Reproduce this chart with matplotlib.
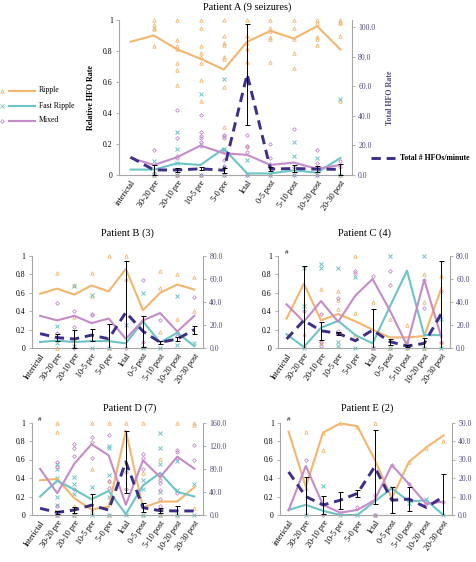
import matplotlib
matplotlib.use('Agg')
import matplotlib.pyplot as plt
from matplotlib.lines import Line2D
import numpy as np

plt.rcParams['font.family'] = 'serif'
plt.rcParams['font.serif'] = ['Liberation Serif', 'DejaVu Serif']

c_ripple = '#f2b66e'
c_fast = '#6cc4c6'
c_mixed = '#c58bc9'
c_total = '#3d2e86'
c_spine = '#a6a6a6'
c_right = '#4e4a7e'

periods = ['interictal', '30-20 pre', '20-10 pre', '10-5 pre', '5-0 pre',
           'Ictal', '0-5 post', '5-10 post', '10-20 post', '20-30 post']
periods_cap = ['Interictal'] + periods[1:]

# ---- Patient A (9 seizures)
a_ripple = [0.86, 0.90, 0.81, 0.75, 0.68, 0.86, 0.93, 0.88, 0.96, 0.81]
a_fast = [0.035, 0.035, 0.075, 0.065, 0.17, 0.01, 0.01, 0.03, 0.015, 0.11]
a_mixed = [0.11, 0.065, 0.115, 0.19, 0.14, 0.13, 0.065, 0.08, 0.04, 0.065]
a_total = [12.0, 3.4, 3.4, 4.2, 3.2, 68.0, 4.0, 4.4, 4.0, 3.8]
a_total_err = [0, 3.4, 1.6, 1.0, 1.8, 34.0, 1.5, 2.2, 1.8, 3.6]
a_ripple_pts = [[], [1.0, 0.97, 0.95, 0.94, 0.83, 0.0],
                [1.0, 0.87, 0.83, 0.81, 0.72, 0.68, 0.58, 0.0],
                [1.0, 0.95, 0.83, 0.79, 0.76, 0.72, 0.61, 0.48, 0.0],
                [1.0, 0.90, 0.85, 0.84, 0.76, 0.75, 0.57, 0.31],
                [1.0, 0.90, 0.85, 0.81, 0.73],
                [1.0, 0.95, 0.93, 0.89, 0.88, 0.73],
                [1.0, 0.95, 0.88, 0.79, 0.69],
                [1.0, 0.98, 0.89, 0.88, 0.84],
                [1.0, 0.99, 0.98, 0.90, 0.48, 0.0]]
a_fast_pts = [[], [0.09, 0.0], [0.28, 0.17, 0.08, 0.0], [0.52, 0.20, 0.0],
              [0.62, 0.17, 0.0], [0.10, 0.0], [0.0], [0.21, 0.12, 0.0],
              [0.11, 0.0], [0.49, 0.0]]
a_mixed_pts = [[], [0.16, 0.01], [0.42, 0.24, 0.12, 0.11, 0.0],
               [0.39, 0.28, 0.25, 0.24, 0.21, 0.19, 0.0],
               [0.26, 0.25, 0.24, 0.15, 0.10, 0.06, 0.0],
               [0.26, 0.19, 0.18, 0.15, 0.0], [0.20, 0.11, 0.07, 0.05, 0.0],
               [0.30, 0.05, 0.0], [0.16, 0.08, 0.0], [0.09, 0.05]]

# ---- Patient B (3)
b_ripple = [0.59, 0.645, 0.58, 0.68, 0.615, 0.86, 0.41, 0.60, 0.69, 0.635]
b_fast = [0.065, 0.08, 0.065, 0.075, 0.075, 0.05, 0.29, 0.06, 0.165, 0.02]
b_mixed = [0.35, 0.30, 0.35, 0.27, 0.32, 0.10, 0.30, 0.38, 0.18, 0.35]
b_total = [12.5, 9.0, 7.8, 11.2, 8.0, 31.0, 14.5, 4.9, 7.8, 16.0]
b_total_err = [0, 2.8, 8.0, 5.0, 13.0, 45.0, 13.5, 1.5, 1.5, 3.5]
b_ripple_pts = [[], [0.815, 0.0], [0.69, 0.34], [0.815, 0.57], [1.0, 0.0],
                [1.0, 0.75], [0.31], [0.84, 0.65, 0.17], [0.80, 0.31],
                [0.77, 0.40]]
b_fast_pts = [[], [0.24, 0.05], [0.67, 0.09, 0.02], [0.58, 0.0], [0.0],
              [0.25], [0.60, 0.0], [0.0], [0.57, 0.03], [0.05]]
b_mixed_pts = [[], [0.49, 0.165], [0.40, 0.23, 0.0], [0.375, 0.36], [],
               [0.0], [0.74, 0.06], [0.30], [0.17, 0.13], [0.55]]

# ---- Patient C (4)
c_ripple_v = [0.32, 0.70, 0.30, 0.37, 0.29, 0.20, 0.115, 0.115, 0.13, 0.65]
c_fast_v = [0.15, 0.01, 0.22, 0.295, 0.14, 0.05, 0.45, 0.84, 0.14, 0.14]
c_mixed_v = [0.475, 0.285, 0.51, 0.285, 0.57, 0.75, 0.41, 0.03, 0.74, 0.115]
c_total_v = [7.8, 24.0, 15.0, 12.7, 6.3, 15.6, 5.5, 1.7, 4.0, 30.0]
c_total_err = [0, 47.0, 8.0, 1.5, 0, 18.5, 2.5, 1.0, 5.0, 46.0]
c_ripple_pts = [[], [0.15], [0.645, 0.08, 0.05], [0.62, 0.52, 0.42],
                [1.0, 0.38, 0.14], [0.50, 0.0], [0.31, 0.0], [0.25, 0.08],
                [0.80, 0.50, 0.0], [0.78, 0.07]]
c_fast_pts = [[], [0.87, 0.46, 0.0], [0.91, 0.87], [0.87, 0.07, 0.02],
              [0.77, 0.0], [0.0], [1.0, 0.0], [0.0], [1.0, 0.0], [0.31, 0.0]]
c_mixed_pts = [[], [0.40], [0.37, 0.06, 0.02], [0.54, 0.18], [0.84, 0.82],
               [0.78, 0.0], [0.84, 0.69], [0.0], [0.74, 0.44], [0.62, 0.06]]

# ---- Patient D (7)
d_ripple = [0.375, 0.39, 0.18, 0.06, 0.09, 0.91, 0.08, 0.145, 0.145, 0.30]
d_fast = [0.20, 0.37, 0.275, 0.17, 0.26, 0.01, 0.32, 0.455, 0.25, 0.20]
d_mixed = [0.50, 0.235, 0.555, 0.765, 0.645, 0.11, 0.59, 0.41, 0.63, 0.50]
d_total = [11.5, 4.6, 8.6, 17.0, 8.6, 92.0, 12.6, 7.5, 7.0, 7.0]
d_total_err = [0, 3.0, 5.0, 20.0, 0, 54.0, 8.0, 4.0, 8.0, 0]
d_ripple_pts = [[], [1.0, 0.90, 0.0], [0.10, 0.0], [1.0, 0.50, 0.05],
                [1.0, 0.37, 0.0], [1.0], [1.0, 0.45, 0.0], [0.61, 0.42, 0.0],
                [1.0, 0.0], [1.0, 0.97, 0.08]]
d_fast_pts = [[], [0.55, 0.50, 0.40, 0.20, 0.11, 0.0], [0.41, 0.33, 0.23, 0.0],
              [0.30, 0.0], [0.75, 0.72, 0.43, 0.20, 0.0], [0.0],
              [0.38, 0.28, 0.0], [0.89, 0.72, 0.55, 0.25, 0.0],
              [0.58, 0.27, 0.0], [0.33, 0.0]]
d_mixed_pts = [[], [0.57, 0.52, 0.10, 0.0], [0.77, 0.72, 0.64, 0.28],
               [0.84, 0.79, 0.62], [0.86, 0.37, 0.29], [0.46, 0.28],
               [0.66, 0.62, 0.50], [0.38, 0.35, 0.27, 0.17, 0.10],
               [0.70, 0.68, 0.62, 0.24], [0.76, 0.59]]

# ---- Patient E (2)
e_ripple = [0.90, 0.305, 0.89, 0.99, 0.96, 0.60, 0.18, 0.575, 0.73, 0.86]
e_fast = [0.055, 0.11, 0.045, 0.0, 0.0, 0.145, 0.29, 0.145, 0.16, 0.0]
e_mixed = [0.05, 0.53, 0.11, 0.025, 0.055, 0.16, 0.54, 0.335, 0.12, 0.145]
e_total = [23.3, 10.0, 5.4, 8.0, 11.7, 26.0, 8.0, 8.6, 4.1, 9.9]
e_total_err = [0, 10.6, 4.8, 4.6, 2.0, 20.0, 7.0, 6.3, 0, 12.0]
e_ripple_pts = [[], [0.90, 0.29], [0.89, 0.70], [0.99], [0.95], [1.0, 0.0],
                [0.18], [0.57], [0.72], [0.80]]
e_fast_pts = [[], [0.0], [0.31], [0.0], [0.0], [0.0], [0.29], [0.13],
              [0.17], [0.0]]
e_mixed_pts = [[], [0.59], [0.0], [0.02], [0.09], [0.22, 0.0], [0.54],
               [0.34], [0.12], [0.14]]

W, H = 476, 562
fig = plt.figure(figsize=(W / 100, H / 100), dpi=100)


def px_rect(left, top, right, bottom):
    return [left / W, 1 - bottom / H, (right - left) / W, (bottom - top) / H]


def panel(rect, ripple, fast, mixed, total, total_err, r_pts, f_pts, m_pts,
          rmax, rstep, labels, hash_mark=False):
    ax = fig.add_axes(rect)
    x = np.arange(len(ripple))
    for i in x:
        ax.plot([i] * len(r_pts[i]), r_pts[i], ls='none', marker='^', mfc='none',
                mec=c_ripple, ms=2.5, mew=0.6, clip_on=False)
        ax.plot([i] * len(f_pts[i]), f_pts[i], ls='none', marker='x',
                mec=c_fast, ms=2.3, mew=0.7, clip_on=False)
        ax.plot([i] * len(m_pts[i]), m_pts[i], ls='none', marker='D', mfc='none',
                mec=c_mixed, ms=1.9, mew=0.6, clip_on=False)
    ax.plot(x, ripple, color=c_ripple, lw=1.5)
    ax.plot(x, fast, color=c_fast, lw=1.5)
    ax.plot(x, mixed, color=c_mixed, lw=1.5)
    ax.set_xlim(-0.5, len(ripple) - 0.5)
    ax.set_ylim(0, 1)
    ax.set_yticks([0, 0.2, 0.4, 0.6, 0.8, 1])
    ax.set_yticklabels(['0', '0.2', '0.4', '0.6', '0.8', '1'])
    ax.set_xticks(x)
    ax.set_xticklabels(labels, rotation=55, ha='right', rotation_mode='anchor')
    ax.tick_params(axis='x', length=0, labelsize=5.9, pad=3)
    ax.tick_params(axis='y', length=2.5, width=0.6, color=c_spine,
                   labelsize=5.6, pad=2)
    for s in ['top', 'right']:
        ax.spines[s].set_visible(False)
    for s in ['left', 'bottom']:
        ax.spines[s].set_color(c_spine)
        ax.spines[s].set_linewidth(0.8)
    if hash_mark:
        ax.text(0, 1.01, '#', fontsize=5, ha='center', va='bottom')

    ax2 = ax.twinx()
    ax2.plot(x, total, color=c_total, lw=2.1, dashes=(3.2, 2.0))
    err = np.array(total_err)
    idx = np.nonzero(err)[0]
    ax2.errorbar(idx, np.array(total)[idx], yerr=err[idx], fmt='none',
                 ecolor='black', elinewidth=0.7, capsize=1.8, capthick=0.7)
    ax2.set_ylim(0, rmax)
    ticks = np.arange(0, rmax + 0.01, rstep)
    ax2.set_yticks(ticks)
    ax2.set_yticklabels(['%.1f' % t for t in ticks])
    ax2.tick_params(axis='y', length=2.5, width=0.6, color=c_spine,
                    labelsize=5.6, labelcolor=c_right, pad=2)
    for s in ['top', 'left', 'bottom']:
        ax2.spines[s].set_visible(False)
    ax2.spines['right'].set_color(c_spine)
    ax2.spines['right'].set_linewidth(0.8)
    return ax, ax2


axA, axA2 = panel(px_rect(119, 20, 352, 175), a_ripple, a_fast, a_mixed, a_total,
                  a_total_err, a_ripple_pts, a_fast_pts, a_mixed_pts, 100, 20,
                  periods)
axA2.set_ylim(0, 104.7)
axA.set_ylabel('Relative HFO Rate', fontsize=5.8, fontweight='bold', labelpad=6)
axA2.set_ylabel('Total HFO Rate', fontsize=5.8, fontweight='bold',
                color=c_right, labelpad=8)

panel(px_rect(31.5, 256, 203, 348), b_ripple, b_fast, b_mixed, b_total,
      b_total_err, b_ripple_pts, b_fast_pts, b_mixed_pts, 80, 20, periods_cap)
panel(px_rect(278, 256, 450, 348), c_ripple_v, c_fast_v, c_mixed_v, c_total_v,
      c_total_err, c_ripple_pts, c_fast_pts, c_mixed_pts, 80, 20, periods_cap,
      hash_mark=True)
panel(px_rect(31.5, 422.5, 203, 515), d_ripple, d_fast, d_mixed, d_total,
      d_total_err, d_ripple_pts, d_fast_pts, d_mixed_pts, 160, 40, periods_cap,
      hash_mark=True)
panel(px_rect(280, 422.5, 452, 515), e_ripple, e_fast, e_mixed, e_total,
      e_total_err, e_ripple_pts, e_fast_pts, e_mixed_pts, 50, 10, periods,
      hash_mark=True)

# titles
title_kw = dict(fontsize=7.5, ha='center', va='center')
fig.text(247 / W, 1 - 7 / H, 'Patient A (9 seizures)', **title_kw)
fig.text(127 / W, 1 - 233 / H, 'Patient B (3)', **title_kw)
fig.text(365 / W, 1 - 233 / H, 'Patient C (4)', **title_kw)
fig.text(130 / W, 1 - 408 / H, 'Patient D (7)', **title_kw)
fig.text(367 / W, 1 - 408 / H, 'Patient E (2)', **title_kw)

# legend (left of panel A)
leg_rows = [('Ripple', c_ripple, '^', 90.5), ('Fast Ripple', c_fast, 'x', 106),
            ('Mixed', c_mixed, 'D', 120.5)]
for name, col, mk, ypx in leg_rows:
    yf = 1 - ypx / H
    fig.add_artist(Line2D([2 / W], [yf], marker=mk, ls='none', mfc='none',
                          mec=col, ms=2.4 if mk != 'D' else 1.9, mew=0.6,
                          transform=fig.transFigure))
    fig.add_artist(Line2D([9 / W, 35 / W], [yf, yf], color=col, lw=1.5,
                          transform=fig.transFigure))
    fig.text(39 / W, yf, name, fontsize=5.6, va='center', ha='left')

yf = 1 - 158 / H
fig.add_artist(Line2D([371 / W, 395 / W], [yf, yf], color=c_total, lw=2.1,
                      dashes=(3.2, 2.0), transform=fig.transFigure))
fig.text(400 / W, yf, 'Total # HFOs/minute', fontsize=5.6, fontweight='bold',
         va='center', ha='left')

fig.savefig('out.png', dpi=100)
